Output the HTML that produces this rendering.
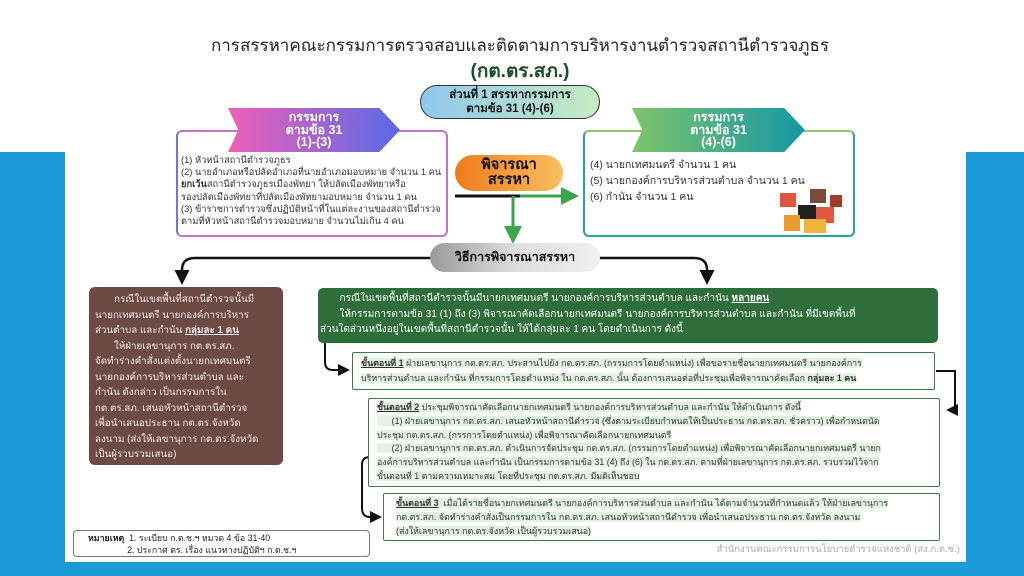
<!DOCTYPE html>
<html><head><meta charset="utf-8"><style>
*{margin:0;padding:0;box-sizing:border-box}
body{width:1024px;height:576px;overflow:hidden;background:#fff;position:relative;font-family:"Liberation Sans","Noto Sans CJK SC",sans-serif;color:#333}
.a{position:absolute}
.t{font-size:10.5px;line-height:15.5px;white-space:nowrap}
.band{color:#fff;font-weight:bold;text-align:center;font-size:12.5px;line-height:12.5px;padding-top:3px;clip-path:polygon(0 0,88% 0,100% 50%,88% 100%,0 100%,6% 50%)}
.stp{border:1.5px solid #3f7a4a;background:#fff;font-size:9.5px;line-height:15px;padding:4px 10px;white-space:nowrap;border-radius:2px}
.stp span.h{background:#e3f2e3}
</style></head><body>
<div class="a" style="left:0;top:152px;width:65px;height:424px;background:#1a9ad6"></div>
<div class="a" style="left:966px;top:152px;width:58px;height:424px;background:#1a9ad6"></div>
<div class="a" style="left:0;top:562px;width:1024px;height:14px;background:#1a9ad6"></div>

<div class="a" style="left:0;top:34px;width:1040px;text-align:center;font-size:17px;line-height:24px;color:#222">การสรรหาคณะกรรมการตรวจสอบและติดตามการบริหารงานตำรวจสถานีตำรวจภูธร</div>
<div class="a" style="left:0;top:60px;width:1040px;text-align:center;font-size:19px;line-height:24px;font-weight:bold;color:#1d4d2a">(กต.ตร.สภ.)</div>
<div class="a" style="left:420px;top:85px;width:180px;height:34px;border:1.5px solid #333;border-radius:17px;background:linear-gradient(90deg,#8ec9ef,#c6ebc2);text-align:center;font-size:11.5px;font-weight:bold;line-height:14px;padding-top:2px;color:#111">ส่วนที่ 1 สรรหากรรมการ<br>ตามข้อ 31 (4)-(6)</div>

<div class="a" style="left:176px;top:130px;width:272px;height:107px;border:2px solid #c474c8;border-left-color:#6f78d8;border-radius:6px"></div>
<div class="a band" style="left:228px;top:108px;width:172px;height:44px;background:linear-gradient(90deg,#ef5fb8,#5a6ae8)">กรรมการ<br>ตามข้อ 31<br>(1)-(3)</div>
<div class="a t" style="left:181px;top:154px;font-size:9.3px;line-height:12.2px">(1) หัวหน้าสถานีตำรวจภูธร<br>(2) นายอำเภอหรือปลัดอำเภอที่นายอำเภอมอบหมาย จำนวน 1 คน<br><b>ยกเว้น</b>สถานีตำรวจภูธรเมืองพัทยา ให้ปลัดเมืองพัทยาหรือ<br>รองปลัดเมืองพัทยาที่ปลัดเมืองพัทยามอบหมาย จำนวน 1 คน<br>(3) ข้าราชการตำรวจซึ่งปฏิบัติหน้าที่ในแต่ละงานของสถานีตำรวจ<br>ตามที่หัวหน้าสถานีตำรวจมอบหมาย จำนวนไม่เกิน 4 คน</div>

<div class="a" style="left:583px;top:130px;width:272px;height:107px;border:2px solid #2aa398;border-top-color:#8cc86a;border-radius:6px"></div>
<div class="a band" style="left:632px;top:108px;width:173px;height:44px;background:linear-gradient(90deg,#7ec46a,#1597a6)">กรรมการ<br>ตามข้อ 31<br>(4)-(6)</div>
<div class="a t" style="left:590px;top:157px;font-size:10.5px;line-height:16px">(4) นายกเทศมนตรี จำนวน 1 คน<br>(5) นายกองค์การบริหารส่วนตำบล จำนวน 1 คน<br>(6) กำนัน จำนวน 1 คน</div>
<svg class="a" style="left:770px;top:185px" width="78" height="50"><rect x="10" y="8" width="16" height="14" fill="#e0563f"/><rect x="40" y="4" width="16" height="14" fill="#7a4a3a"/><rect x="28" y="20" width="18" height="14" fill="#222"/><rect x="14" y="30" width="16" height="16" fill="#e89a2a"/><rect x="46" y="22" width="18" height="16" fill="#e0563f"/><rect x="34" y="34" width="22" height="14" fill="#f0b43a"/><rect x="60" y="10" width="12" height="12" fill="#a03a2a"/></svg>

<div class="a" style="left:455px;top:155px;width:108px;height:36px;border-radius:18px;background:linear-gradient(90deg,#f07a1a,#f7c060);text-align:center;font-size:14.5px;font-weight:bold;line-height:15px;padding-top:3px;color:#111">พิจารณา<br>สรรหา</div>

<svg class="a" style="left:0;top:0" width="1024" height="576">
<defs><marker id="g" markerWidth="6" markerHeight="6" refX="4" refY="3" orient="auto"><path d="M0,0L6,3L0,6z" fill="#3aa54a"/></marker>
<marker id="k" markerWidth="6" markerHeight="6" refX="4" refY="3" orient="auto"><path d="M0,0L6,3L0,6z" fill="#111"/></marker></defs>
<line x1="455" y1="196" x2="520" y2="196" stroke="#111" stroke-width="3"/>
<line x1="520" y1="196" x2="573" y2="196" stroke="#3aa54a" stroke-width="3" marker-end="url(#g)"/>
<line x1="513" y1="196" x2="513" y2="238" stroke="#3aa54a" stroke-width="3" marker-end="url(#g)"/>
<path d="M432 258H195Q182 258 182 270V280" fill="none" stroke="#111" stroke-width="2.5" marker-end="url(#k)"/>
<path d="M598 258H694Q707 258 707 270V280" fill="none" stroke="#111" stroke-width="2.5" marker-end="url(#k)"/>
<path d="M325 342V362Q325 370 333 370H346" fill="none" stroke="#111" stroke-width="2" marker-end="url(#k)"/>
<path d="M936 371H955V410H950" fill="none" stroke="#111" stroke-width="2" marker-end="url(#k)"/>
<path d="M370 457Q362 457 362 465V508Q362 517 370 517H378" fill="none" stroke="#111" stroke-width="2" marker-end="url(#k)"/>
</svg>

<div class="a" style="left:430px;top:243px;width:170px;height:29px;border-radius:15px;background:linear-gradient(90deg,#9a9a9a,#dedede,#f0f0f0);text-align:center;font-size:12.5px;font-weight:bold;line-height:29px;color:#111">วิธีการพิจารณาสรรหา</div>

<div class="a t" style="left:89px;top:287px;width:194px;height:178px;background:#6e4a45;border-radius:6px;color:#f3ecea;font-size:9.8px;line-height:15.5px;padding:5px 6px">&nbsp;&nbsp;&nbsp;&nbsp;&nbsp;&nbsp;&nbsp;กรณีในเขตพื้นที่สถานีตำรวจนั้นมี<br>นายกเทศมนตรี นายกองค์การบริหาร<br>ส่วนตำบล และกำนัน <u><b>กลุ่มละ 1 คน</b></u><br>&nbsp;&nbsp;&nbsp;&nbsp;&nbsp;&nbsp;&nbsp;ให้ฝ่ายเลขานุการ กต.ตร.สภ.<br>จัดทำร่างคำสั่งแต่งตั้งนายกเทศมนตรี<br>นายกองค์การบริหารส่วนตำบล และ<br>กำนัน ดังกล่าว เป็นกรรมการใน<br>กต.ตร.สภ. เสนอหัวหน้าสถานีตำรวจ<br>เพื่อนำเสนอประธาน กต.ตร.จังหวัด<br>ลงนาม (ส่งให้เลขานุการ กต.ตร.จังหวัด<br>เป็นผู้รวบรวมเสนอ)</div>

<div class="a t" style="left:318px;top:288px;width:620px;height:55px;background:#2d6e3a;border-radius:5px;color:#fff;font-size:10px;line-height:15.5px;padding:3px 2px">&nbsp;&nbsp;&nbsp;&nbsp;&nbsp;&nbsp;&nbsp;กรณีในเขตพื้นที่สถานีตำรวจนั้นมีนายกเทศมนตรี นายกองค์การบริหารส่วนตำบล และกำนัน <u><b>หลายคน</b></u><br>&nbsp;&nbsp;&nbsp;&nbsp;&nbsp;&nbsp;&nbsp;ให้กรรมการตามข้อ 31 (1) ถึง (3) พิจารณาคัดเลือกนายกเทศมนตรี นายกองค์การบริหารส่วนตำบล และกำนัน ที่มีเขตพื้นที่<br>ส่วนใดส่วนหนึ่งอยู่ในเขตพื้นที่สถานีตำรวจนั้น ให้ได้กลุ่มละ 1 คน โดยดำเนินการ ดังนี้</div>

<div class="a stp" style="left:352px;top:352px;width:583px;height:38px;padding:3px 8px;font-size:8.9px;line-height:15px"><span class="h"><u><b>ขั้นตอนที่ 1</b></u> ฝ่ายเลขานุการ กต.ตร.สภ. ประสานไปยัง กต.ตร.สภ. (กรรมการโดยตำแหน่ง) เพื่อขอรายชื่อนายกเทศมนตรี นายกองค์การ<br>บริหารส่วนตำบล และกำนัน ที่กรรมการโดยตำแหน่ง ใน กต.ตร.สภ. นั้น ต้องการเสนอต่อที่ประชุมเพื่อพิจารณาคัดเลือก <b>กลุ่มละ 1 คน</b></span></div>

<div class="a stp" style="left:368px;top:398px;width:572px;height:89px;padding:2px 8px;font-size:8.8px;line-height:13.8px"><span class="h"><u><b>ขั้นตอนที่ 2</b></u> ประชุมพิจารณาคัดเลือกนายกเทศมนตรี นายกองค์การบริหารส่วนตำบล และกำนัน ให้ดำเนินการ ดังนี้<br>&nbsp;&nbsp;&nbsp;&nbsp;&nbsp;&nbsp;(1) ฝ่ายเลขานุการ กต.ตร.สภ. เสนอหัวหน้าสถานีตำรวจ (ซึ่งตามระเบียบกำหนดให้เป็นประธาน กต.ตร.สภ. ชั่วคราว) เพื่อกำหนดนัด<br>ประชุม กต.ตร.สภ. (กรรการโดยตำแหน่ง) เพื่อพิจารณาคัดเลือกนายกเทศมนตรี<br>&nbsp;&nbsp;&nbsp;&nbsp;&nbsp;&nbsp;(2) ฝ่ายเลขานุการ กต.ตร.สภ. ดำเนินการจัดประชุม กต.ตร.สภ. (กรรมการโดยตำแหน่ง) เพื่อพิจารณาคัดเลือกนายกเทศมนตรี นายก<br>องค์การบริหารส่วนตำบล และกำนัน เป็นกรรมการตามข้อ 31 (4) ถึง (6) ใน กต.ตร.สภ. ตามที่ฝ่ายเลขานุการ กต.ตร.สภ. รวบรวมไว้จาก<br>ขั้นตอนที่ 1 ตามความเหมาะสม โดยที่ประชุม กต.ตร.สภ. มีมติเห็นชอบ</span></div>

<div class="a stp" style="left:383px;top:493px;width:557px;height:48px;padding:2px 12px;font-size:8.9px;line-height:14px"><span class="h"><u><b>ขั้นตอนที่ 3</b></u>&nbsp; เมื่อได้รายชื่อนายกเทศมนตรี นายกองค์การบริหารส่วนตำบล และกำนัน ได้ตามจำนวนที่กำหนดแล้ว ให้ฝ่ายเลขานุการ<br>กต.ตร.สภ. จัดทำร่างคำสั่งเป็นกรรมการใน กต.ตร.สภ. เสนอหัวหน้าสถานีตำรวจ เพื่อนำเสนอประธาน กต.ตร.จังหวัด ลงนาม<br>(ส่งให้เลขานุการ กต.ตร.จังหวัด เป็นผู้รวบรวมเสนอ)</span></div>

<div class="a t" style="left:73px;top:530px;width:297px;height:27px;border:1.5px solid #777;border-radius:4px;font-size:8.8px;line-height:12px;padding:1px 0 0 14px;color:#222"><b>หมายเหตุ</b>&nbsp; 1. ระเบียบ ก.ต.ช.ฯ หมวด 4 ข้อ 31-40<br>&nbsp;&nbsp;&nbsp;&nbsp;&nbsp;&nbsp;&nbsp;&nbsp;&nbsp;&nbsp;&nbsp;&nbsp;&nbsp;&nbsp;&nbsp;&nbsp;2. ประกาศ ตร. เรื่อง แนวทางปฏิบัติฯ ก.ต.ช.ฯ</div>
<div class="a t" style="left:655px;top:542px;width:305px;text-align:right;font-size:9.5px;color:#aaa">สำนักงานคณะกรรมการนโยบายตำรวจแห่งชาติ (สง.ก.ต.ช.)</div>
</body></html>
